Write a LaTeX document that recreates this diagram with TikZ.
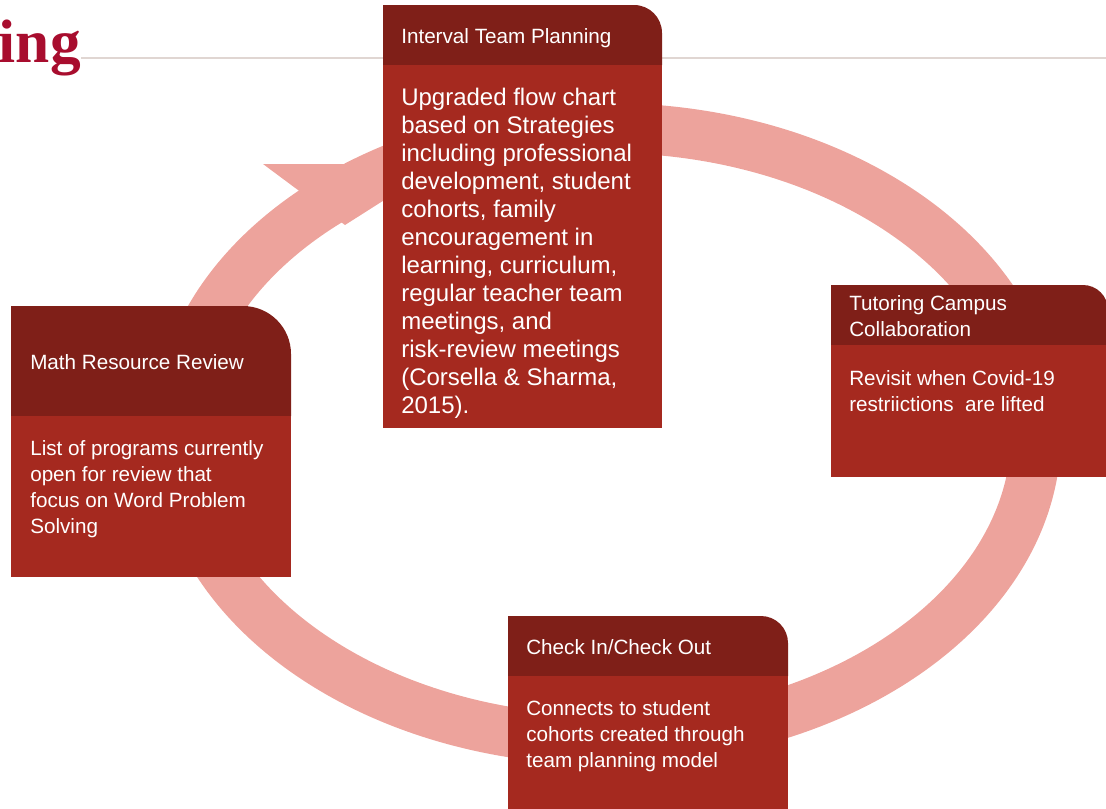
\documentclass[tikz,border=0pt]{standalone}
\usepackage{fontspec}
\setmainfont{Liberation Sans}
\newfontfamily\headfont{Liberation Serif}
\usepackage{tikz}
\usepackage{color}
\definecolor{hdrred}{RGB}{127,31,24}
\definecolor{bodyred}{RGB}{165,41,31}
\definecolor{ringpink}{RGB}{237,163,156}
\definecolor{titlered}{RGB}{168,13,46}
\definecolor{rulegray}{RGB}{224,214,210}

\begin{document}
\begin{tikzpicture}[x=0.75pt,y=0.75pt,yscale=-1,xscale=1,
  hdr/.style={fill=hdrred},
  bdy/.style={fill=bodyred},
  hdrtext/.style={text=white,inner sep=0,align=left,font=\fontsize{15.5}{19.5}\selectfont},
  bigtext/.style={text=white,inner sep=0,align=left,font=\fontsize{18}{21}\selectfont}]
\useasboundingbox (0,0) rectangle (1106,808);

% Text Node
\draw (81,62) node [anchor=base east,inner sep=0,text=titlered,font=\headfont\bfseries\fontsize{46}{50}\selectfont] (title) {ing};
%Straight Lines
\draw [color=rulegray,line width=1.5pt] (81,57.5) -- (1106,57.5) ;

%Shape: Ring
\draw [color=ringpink,line width=37.5pt] (607,434) ellipse (429 and 306) ;
%Shape: Arrow head
\fill [ringpink] (263,164) -- (441,164) -- (345,225) -- cycle ;

%Shape: Box Interval Team Planning
\fill [hdr] (383,65) -- (383,5) -- (634,5) .. controls (649.5,5) and (662,17.5) .. (662,33) -- (662,65) -- cycle ;
\fill [bdy] (383,65) rectangle (662,428) ;
%Shape: Box Tutoring Campus
\fill [hdr] (831,345) -- (831,285) -- (1083,285) .. controls (1096.8,285) and (1108,296.2) .. (1108,310) -- (1108,345) -- cycle ;
\fill [bdy] (831,345) rectangle (1108,477) ;
%Shape: Box Math Resource Review
\fill [hdr] (11,416) -- (11,306) -- (243,306) .. controls (269.5,306) and (291,327.5) .. (291,354) -- (291,416) -- cycle ;
\fill [bdy] (11,416) rectangle (291,577) ;
%Shape: Box Check In
\fill [hdr] (508,676) -- (508,616) -- (761,616) .. controls (775.9,616) and (788,628.1) .. (788,643) -- (788,676) -- cycle ;
\fill [bdy] (508,676) rectangle (788,810) ;

% Text Node
\draw (401,43) node [anchor=base west,hdrtext] (planHead) {Interval Team Planning};
% Text Node
\draw (401,88) node [anchor=north west,bigtext] (planBody) {Upgraded flow chart\\based on Strategies\\including professional\\development, student\\cohorts, family\\encouragement in\\learning, curriculum,\\regular teacher team\\meetings, and\\risk-review meetings\\(Corsella \& Sharma,\\2015).};
% Text Node
\draw (849,295) node [anchor=north west,hdrtext] (tutorHead) {Tutoring Campus\\Collaboration};
% Text Node
\draw (849,370) node [anchor=north west,hdrtext] (tutorBody) {Revisit when Covid-19\\restriictions\ \ are lifted};
% Text Node
\draw (30,369) node [anchor=base west,hdrtext] (mathHead) {Math Resource Review};
% Text Node
\draw (30,440) node [anchor=north west,hdrtext] (mathBody) {List of programs currently\\open for review that\\focus on Word Problem\\Solving};
% Text Node
\draw (526,654) node [anchor=base west,hdrtext] (cicoHead) {Check In/Check Out};
% Text Node
\draw (526,700) node [anchor=north west,hdrtext] (cicoBody) {Connects to student\\cohorts created through\\team planning model};

\end{tikzpicture}
\end{document}
